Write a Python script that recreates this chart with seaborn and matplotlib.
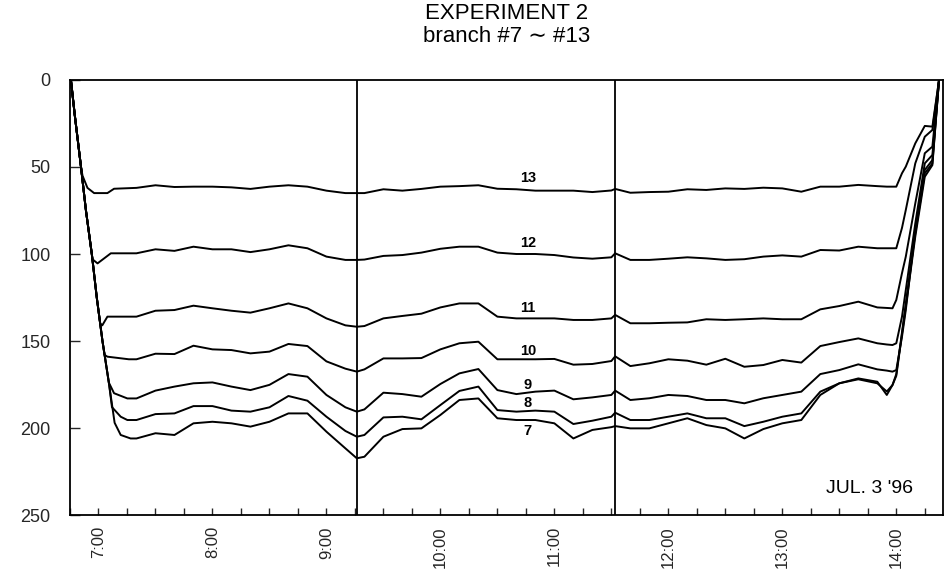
import matplotlib
matplotlib.use("Agg")
import matplotlib.pyplot as plt
import seaborn as sns
import pandas as pd
from matplotlib.ticker import FixedLocator, FuncFormatter

# ---------------- data ----------------
title_text = "EXPERIMENT 2\nbranch #7 \u223c #13"
date_text = "JUL. 3 '96"
branches = [7, 8, 9, 10, 11, 12, 13]
hour_ticks = [7, 8, 9, 10, 11, 12, 13, 14]
y_ticks = [0, 50, 100, 150, 200, 250]
marker_lines = ["9:16", "11:32"]

# descent at start of run: minutes after 7:00
head_t7 = [-14.5, -12.5, -9.2, -6.6, -3.5, -0.9, 2.1, 5.6, 8.5, 11.7, 16.9]
head_v7 = [0, 20, 50, 75, 100, 125, 150, 175, 197, 204, 206]
head_t8 = [-14.5, -12.5, -9.2, -6.6, -3.5, -0.9, 2.1, 5.6, 7.1, 11.7, 15.2]
head_v8 = [0, 20, 50, 75, 100, 125, 150, 175, 188, 193.5, 195.4]
head_t9 = [-14.5, -12.5, -9.2, -6.6, -3.5, -0.9, 2.1, 5.5, 8.2, 15.2]
head_v9 = [0, 20, 50, 75, 100, 125, 150, 174, 180, 183]
head_t10 = [-14.5, -12.5, -9.2, -6.6, -3.5, -0.9, 2.1, 3.2, 4.7, 16.0]
head_v10 = [0, 20, 50, 75, 100, 125, 150, 158, 159, 160.5]
head_t11 = [-14.5, -12.5, -9.2, -6.6, -3.5, -0.9, 0.9, 2.0, 4.7]
head_v11 = [0, 20, 50, 75, 100, 125, 140, 141, 136]
head_t12 = [-14.5, -12.5, -9.2, -6.6, -3.2, -0.5, 3.0, 6.5]
head_v12 = [0, 20, 50, 75, 103, 105.4, 102.5, 99.6]
head_t13 = [-14.5, -12.5, -9.2, -8.4, -5.8, -2.3, 4.7, 8.2]
head_v13 = [0, 20, 50, 55, 62, 65, 65, 62.5]

grid_times = ["7:20", "7:30", "7:40", "7:50", "8:00", "8:10", "8:20", "8:30",
              "8:40", "8:50", "9:00", "9:10", "9:16", "9:20", "9:30", "9:40",
              "9:50", "10:00", "10:10", "10:20", "10:30", "10:40", "10:50",
              "11:00", "11:10", "11:20", "11:30", "11:32", "11:40", "11:50",
              "12:00", "12:10", "12:20", "12:30", "12:40", "12:50", "13:00",
              "13:10", "13:20", "13:30", "13:40", "13:50", "13:55", "13:58",
              "14:00"]

v13 = [62, 60.5, 61.5, 61.3, 61.3, 61.7, 62.6, 61.3, 60.5, 61.3, 63.6, 65, 65,
       65, 62.8, 63.6, 62.6, 61.3, 61, 60.5, 62.5, 62.8, 63.6, 63.6, 63.6, 64.4,
       63.5, 62.6, 64.8, 64.4, 64.2, 62.8, 63.2, 62.3, 62.6, 61.9, 62.3, 64.2,
       61.3, 61.3, 60.3, 61, 61.3, 61.3, 61.3]
v12 = [99.6, 97.3, 98.2, 95.8, 97.3, 97.3, 98.9, 97.3, 95, 96.7, 101.5, 103.4,
       103.4, 103.2, 101.1, 100.6, 99.2, 97, 95.8, 95.8, 99.2, 100, 100, 100.6,
       102, 102.7, 101.9, 99.6, 103.4, 103.4, 102.7, 101.9, 102.5, 103.4, 103,
       101.5, 100.8, 101.5, 97.7, 98, 95.8, 96.7, 96.7, 96.7, 96.7]
v11 = [136, 132.6, 132.2, 129.7, 131.2, 132.6, 133.7, 131.2, 128.4, 131.2, 137,
       141, 141.8, 141.4, 137, 135.6, 134.3, 130.7, 128.4, 128.4, 136, 137, 137,
       137, 137.9, 137.9, 137, 135, 139.8, 139.8, 139.5, 139.3, 137.5, 137.9,
       137.5, 137, 137.5, 137.5, 131.8, 129.9, 127.4, 130.7, 131, 131.2, 126.4]
v10 = [160.5, 157.3, 157.5, 152.7, 154.8, 155.2, 157.1, 156.1, 151.7, 152.9,
       161.7, 165.9, 167.6, 166.3, 160, 160, 159.8, 154.8, 151.3, 150.4, 160.5,
       160.5, 160.5, 160.3, 163.6, 163.2, 161.5, 158.8, 164.4, 162.8, 160.5,
       161.3, 163.6, 160.2, 164.8, 163.8, 160.9, 162.4, 152.9, 150.6, 148.5,
       151.3, 152, 152.3, 151.3]
v9 = [183, 178.5, 176.2, 174.3, 173.8, 176.2, 178.2, 175.2, 169, 170.5, 181,
      188.1, 190.6, 189.3, 179.7, 180.5, 182, 174.7, 168.6, 166.1, 178.2, 180.5,
      179.1, 178.5, 183.5, 182.4, 181, 178.5, 183.9, 182.9, 181, 181.6, 183.9,
      183.9, 185.8, 182.9, 181, 179.1, 169, 166.7, 163.4, 166.3, 167, 167.6,
      166.7]
v8 = [195.4, 192, 191.6, 187.4, 187.4, 190, 190.6, 188.1, 181.6, 184.3, 193.5,
      201.7, 205, 204, 193.9, 193.5, 195, 186.8, 178.7, 176.2, 189.7, 190.6, 190,
      190.6, 197.7, 195.8, 193.5, 191.2, 195.4, 195.4, 193.5, 191.6, 194.4,
      194.4, 198.9, 196.4, 193.5, 191.6, 179.1, 174.3, 171.5, 173.4, 181, 175.3,
      169]
v7 = [206, 203, 204, 197.3, 196.4, 197.3, 199.2, 196.4, 191.6, 191.6, 202.1,
      211.7, 217.4, 216.5, 205, 200.6, 200.2, 192.5, 183.9, 183, 194.4, 195.4,
      195.4, 197.3, 206, 201.1, 199.5, 198.9, 200.2, 200.2, 197.3, 194.4, 198.3,
      200.2, 206, 200.6, 197.3, 195.4, 181, 174.3, 172, 174.3, 179, 175.3, 170]

# final rise: minutes after 14:00
tail_t = [3, 5, 10, 15, 19, 22.5]
tail13 = [53.6, 49.8, 36.4, 26.4, 26.8, 0]
tail12 = [85, 74.7, 47.9, 32.6, 28.7, 0]
tail11 = [111, 101.5, 70.9, 42.1, 38.3, 0]
tail10 = [136, 120.7, 82.4, 47.9, 43.1, 0]
tail9 = [147.5, 132.2, 86.2, 51.7, 46, 0]
tail8 = [145, 128.4, 88, 53.6, 47.9, 0]
tail7 = [146, 130.3, 90, 55.6, 48.9, 0]

label_time = "10:46"
label_y = [202, 185.4, 175, 156, 131, 93.6, 56.3]  # for branches 7..13

# ---------------- assemble ----------------
def hm(s):
    h, m = s.split(":")
    return int(h) + float(m) / 60.0

heads = {7: (head_t7, head_v7), 8: (head_t8, head_v8), 9: (head_t9, head_v9),
         10: (head_t10, head_v10), 11: (head_t11, head_v11),
         12: (head_t12, head_v12), 13: (head_t13, head_v13)}
bodies = {7: v7, 8: v8, 9: v9, 10: v10, 11: v11, 12: v12, 13: v13}
tails = {7: tail7, 8: tail8, 9: tail9, 10: tail10, 11: tail11, 12: tail12,
         13: tail13}

rows = []
for b in branches:
    ht, hv = heads[b]
    order = 0
    for t, v in zip(ht, hv):
        rows.append((b, order, 7 + t / 60.0, v)); order += 1
    for t, v in zip(grid_times, bodies[b]):
        rows.append((b, order, hm(t), v)); order += 1
    for t, v in zip(tail_t, tails[b]):
        rows.append((b, order, 14 + t / 60.0, v)); order += 1
df = pd.DataFrame(rows, columns=["branch", "order", "time", "value"])

# ---------------- draw ----------------
sns.set_style("white")
plt.rcParams["font.family"] = ["Liberation Sans", "DejaVu Sans"]

fig = plt.figure(figsize=(9.47, 5.75), dpi=100)
ax = fig.add_axes([0.0739, 0.1043, 0.9219, 0.7566])

sns.lineplot(data=df, x="time", y="value", hue="branch", units="branch",
             estimator=None, sort=False, palette=["black"] * len(branches),
             legend=False, linewidth=1.4, ax=ax)

for s in marker_lines:
    ax.axvline(hm(s), color="black", linewidth=1.3)

ax.set_xlim(6.75, 14.41)
ax.set_ylim(250, 0)

ax.xaxis.set_major_locator(FixedLocator(hour_ticks))
ax.xaxis.set_major_formatter(FuncFormatter(lambda x, p: f"{int(round(x))}:00"))
ax.xaxis.set_minor_locator(FixedLocator([h + q / 4 for h in range(6, 15) for q in range(4)]))
ax.set_yticks(y_ticks)
ax.tick_params(axis="x", which="both", direction="in", length=5, width=1,
               bottom=True, pad=8, labelsize=12, labelrotation=90)
ax.tick_params(axis="y", direction="in", length=7, width=1, left=True,
               pad=14, labelsize=13)
for lab in ax.get_xticklabels():
    lab.set_verticalalignment("top")
ax.set_xlabel("")
ax.set_ylabel("")
for sp in ax.spines.values():
    sp.set_color("black")
    sp.set_linewidth(1.3)

lt = hm(label_time)
for b, y in zip(branches, label_y):
    ax.text(lt, y, str(b), ha="center", va="center", fontsize=10.5,
            fontweight="bold", color="black")

ax.text(14.15, 235, date_text, ha="right", va="center", fontsize=14,
        color="black")

fig.text(0.535, 0.995, title_text, ha="center", va="top", fontsize=16,
         linespacing=1.15, color="black")

fig.savefig("out.png", dpi=100, facecolor="white")
